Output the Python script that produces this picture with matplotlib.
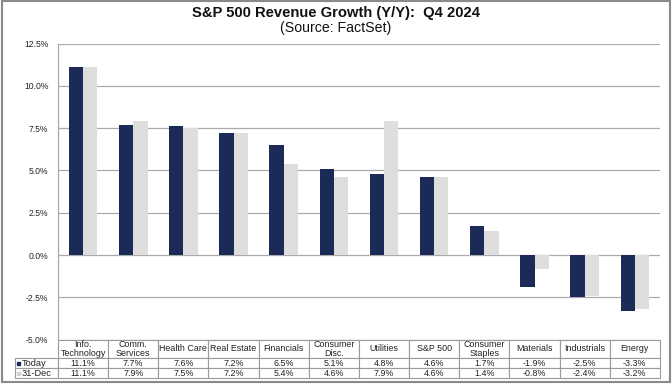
"""S&P 500 revenue growth by sector, Q4 2024 (today vs 31-Dec), with data table."""
import matplotlib
matplotlib.use('Agg')
import matplotlib.pyplot as plt
import numpy as np
from matplotlib.table import Table
from matplotlib.patches import Rectangle

plt.rcParams['font.family'] = ['Liberation Sans', 'DejaVu Sans']

sectors = ['Info.\nTechnology', 'Comm.\nServices', 'Health Care', 'Real Estate',
           'Financials', 'Consumer\nDisc.', 'Utilities', 'S&P 500',
           'Consumer\nStaples', 'Materials', 'Industrials', 'Energy']
today = [11.1, 7.7, 7.6, 7.2, 6.5, 5.1, 4.8, 4.6, 1.7, -1.9, -2.5, -3.3]
dec31 = [11.1, 7.9, 7.5, 7.2, 5.4, 4.6, 7.9, 4.6, 1.4, -0.8, -2.4, -3.2]
series_names = ['Today', '31-Dec']
yticks = [-5.0, -2.5, 0.0, 2.5, 5.0, 7.5, 10.0, 12.5]

DARK = '#1b2a56'
LIGHT = '#dedede'
GRID = '#ababab'
TXT = '#222222'

fig = plt.figure(figsize=(6.72, 3.84), dpi=100)
ax = fig.add_axes([0.0863, 0.1156, 0.8957, 0.7711])

x = np.arange(len(sectors))
w = 0.285
ax.bar(x - w / 2, today, w, color=DARK, zorder=3)
ax.bar(x + w / 2, dec31, w, color=LIGHT, zorder=3)

ax.set_xlim(-0.5, len(sectors) - 0.5)
ax.set_ylim(-5, 12.5)
ax.set_yticks(yticks)
ax.set_yticklabels([f'{t:.1f}%' for t in yticks], fontsize=6.2, color=TXT)
ax.set_xticks([])
ax.tick_params(axis='y', length=0, pad=7)
ax.grid(axis='y', color=GRID, lw=0.9, zorder=0)
for s in ['top', 'right', 'bottom']:
    ax.spines[s].set_visible(False)
ax.spines['left'].set_color(GRID)
ax.spines['left'].set_linewidth(0.9)

# data table under the axes (row-label column sits outside the bbox, to the left)
lab_w = 43 / 602
col_w = 1 / len(sectors)
hdr_h = 18.7 / 296
row_h = 9.8 / 296
tbl_h = hdr_h + 2 * row_h
tb = Table(ax, bbox=[0, -tbl_h, 1, tbl_h])
tb.auto_set_font_size(False)
for j, name in enumerate(sectors):
    c = tb.add_cell(0, j, width=col_w, height=hdr_h, text=name, loc='center',
                    facecolor='white', edgecolor='#9a9a9a')
    c.get_text().set_linespacing(0.95)
for i, vals in enumerate([today, dec31], start=1):
    tb.add_cell(i, -1, width=lab_w, height=row_h, text='', loc='left',
                facecolor='white', edgecolor='#9a9a9a')
    for j, v in enumerate(vals):
        tb.add_cell(i, j, width=col_w, height=row_h, text=f'{v:.1f}%', loc='center',
                    facecolor='white', edgecolor='#9a9a9a')
for cell in tb.get_celld().values():
    cell.set_linewidth(0.8)
    cell.get_text().set_fontsize(6.4)
    cell.get_text().set_color(TXT)
tb.set_fontsize(6.4)
ax.add_table(tb)

# row labels with small colored squares
sq_w = 3 / 602
sq_h = 3 / 296
for i, (name, col) in enumerate(zip(series_names, [DARK, '#cfcfcf'])):
    yc = -hdr_h - row_h * (i + 0.5)
    ax.add_patch(Rectangle((-lab_w + 2 / 602, yc - sq_h / 2), sq_w, sq_h,
                           transform=ax.transAxes, color=col, clip_on=False))
    ax.text(-lab_w + 0.0105, yc, name, color=TXT, fontsize=6.7, va='center',
            ha='left', transform=ax.transAxes)

fig.text(0.5, 1 - 13.5 / 384, 'S&P 500 Revenue Growth (Y/Y):  Q4 2024', ha='center',
         va='center', fontsize=10.6, fontweight='bold', color='#111111')
fig.text(0.5, 1 - 28 / 384, '(Source: FactSet)', ha='center', va='center',
         fontsize=10.2, color='#111111')

fig.patches.append(Rectangle((0.003, 0.004), 0.994, 0.994, transform=fig.transFigure,
                             fill=False, edgecolor='#8a8a8a', lw=1.5))

fig.savefig('out.png', dpi=100)
